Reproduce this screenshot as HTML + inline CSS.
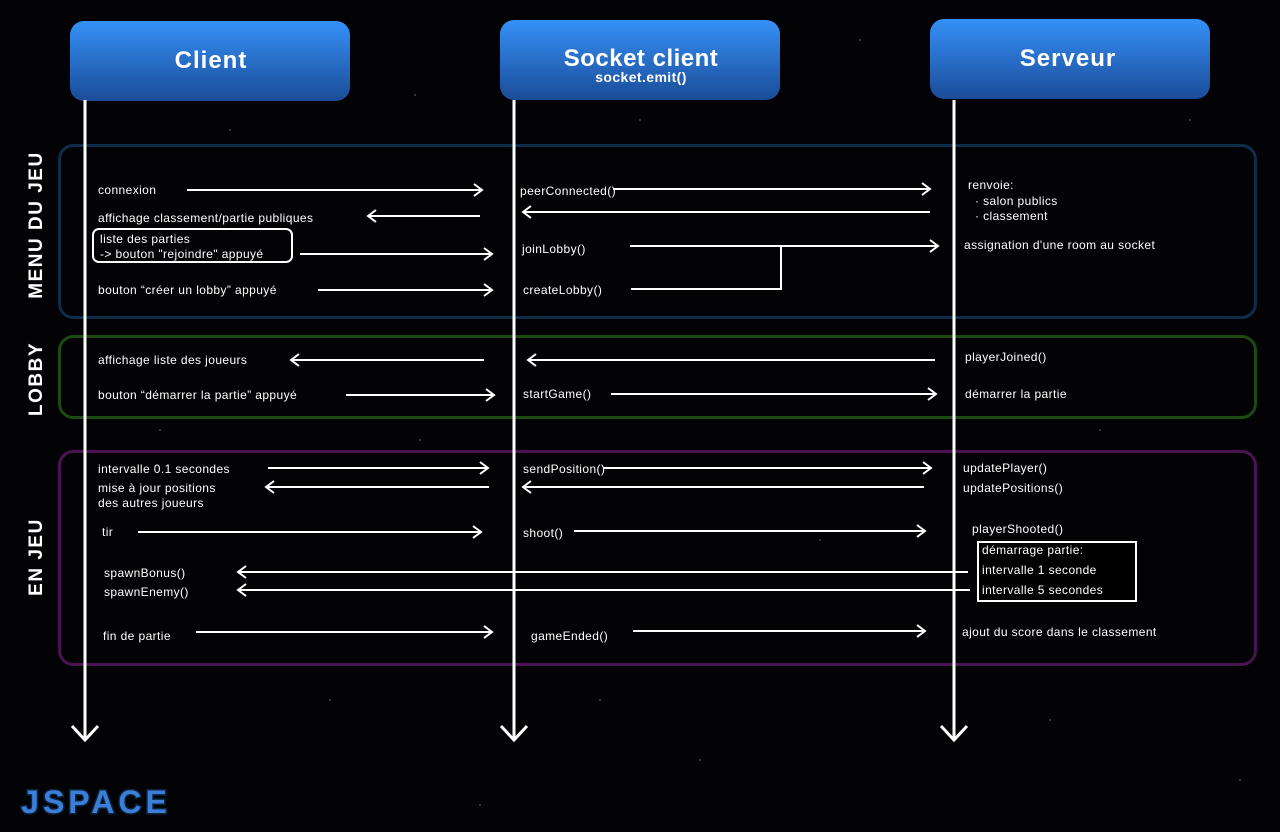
<!DOCTYPE html>
<html><head><meta charset="utf-8"><style>
html,body{margin:0;padding:0;background:#000;}
svg{display:block;}
text{font-family:"Liberation Sans",sans-serif;fill:#fff;font-size:12px;letter-spacing:0.4px;}
</style></head><body>
<svg width="1280" height="832" viewBox="0 0 1280 832" xmlns="http://www.w3.org/2000/svg">
<defs>
<linearGradient id="g" x1="0" y1="0" x2="0" y2="1"><stop offset="0" stop-color="#3591f8"/><stop offset="1" stop-color="#1b4c98"/></linearGradient>
<marker id="a" markerWidth="12" markerHeight="14" refX="10" refY="7" orient="auto" markerUnits="userSpaceOnUse"><path d="M2,1 L10,7 L2,13" fill="none" stroke="#fff" stroke-width="2"/></marker>
</defs>
<rect width="1280" height="832" fill="#030305"/>
<g fill="#6a5a70" opacity="0.7">
<circle cx="230" cy="130" r="1"/><circle cx="415" cy="95" r="1"/><circle cx="640" cy="120" r="1"/><circle cx="860" cy="40" r="1"/><circle cx="1100" cy="430" r="1"/><circle cx="330" cy="700" r="1"/><circle cx="700" cy="760" r="1"/><circle cx="1050" cy="720" r="1"/><circle cx="160" cy="430" r="1"/><circle cx="820" cy="540" r="1"/><circle cx="1240" cy="780" r="1"/><circle cx="480" cy="805" r="1"/><circle cx="1190" cy="120" r="1"/><circle cx="420" cy="440" r="1"/><circle cx="600" cy="700" r="1"/>
</g>
<rect x="59.5" y="145.5" width="1196" height="172" rx="14" fill="none" stroke="#0f2c48" stroke-width="3"/>
<rect x="59.5" y="336.5" width="1196" height="81" rx="14" fill="none" stroke="#1c4a12" stroke-width="3"/>
<rect x="59.5" y="451.5" width="1196" height="213" rx="14" fill="none" stroke="#4a1352" stroke-width="3"/>
<g font-weight="bold">
<text transform="translate(42,225) rotate(-90)" text-anchor="middle" style="font-size:19px;letter-spacing:1.5px">MENU DU JEU</text>
<text transform="translate(42,379) rotate(-90)" text-anchor="middle" style="font-size:19px;letter-spacing:1.5px">LOBBY</text>
<text transform="translate(42,557) rotate(-90)" text-anchor="middle" style="font-size:19px;letter-spacing:1.5px">EN JEU</text>
</g>
<rect x="70" y="21" width="280" height="80" rx="14" fill="url(#g)"/>
<rect x="500" y="20" width="280" height="80" rx="14" fill="url(#g)"/>
<rect x="930" y="19" width="280" height="80" rx="14" fill="url(#g)"/>
<text x="211" y="68" text-anchor="middle" font-weight="bold" style="font-size:24px;letter-spacing:1px">Client</text>
<text x="641" y="66" text-anchor="middle" font-weight="bold" style="font-size:24px;letter-spacing:0.5px">Socket client</text>
<text x="641" y="82" text-anchor="middle" font-weight="bold" style="font-size:14px">socket.emit()</text>
<text x="1068" y="66" text-anchor="middle" font-weight="bold" style="font-size:24px;letter-spacing:1px">Serveur</text>
<g stroke="#fff" stroke-width="3" fill="none">
<line x1="85" y1="100" x2="85" y2="740"/><path d="M72,726 L85,740 L98,726"/>
<line x1="514" y1="100" x2="514" y2="740"/><path d="M501,726 L514,740 L527,726"/>
<line x1="954" y1="100" x2="954" y2="740"/><path d="M941,726 L954,740 L967,726"/>
</g>
<g stroke="#fff" stroke-width="2" fill="none" marker-end="url(#a)">
<line x1="187" y1="190" x2="482" y2="190"/>
<line x1="480" y1="216" x2="368" y2="216"/>
<line x1="300" y1="254" x2="492" y2="254"/>
<line x1="318" y1="290" x2="492" y2="290"/>
<line x1="613" y1="189" x2="930" y2="189"/>
<line x1="930" y1="212" x2="523" y2="212"/>
<line x1="630" y1="246" x2="938" y2="246"/>
<line x1="484" y1="360" x2="291" y2="360"/>
<line x1="346" y1="395" x2="494" y2="395"/>
<line x1="935" y1="360" x2="528" y2="360"/>
<line x1="611" y1="394" x2="936" y2="394"/>
<line x1="268" y1="468" x2="488" y2="468"/>
<line x1="489" y1="487" x2="266" y2="487"/>
<line x1="138" y1="532" x2="481" y2="532"/>
<line x1="968" y1="572" x2="238" y2="572"/>
<line x1="970" y1="590" x2="238" y2="590"/>
<line x1="196" y1="632" x2="492" y2="632"/>
<line x1="603" y1="468" x2="931" y2="468"/>
<line x1="924" y1="487" x2="523" y2="487"/>
<line x1="574" y1="531" x2="925" y2="531"/>
<line x1="633" y1="631" x2="925" y2="631"/>
</g>
<path d="M631,289 L781,289 L781,247" stroke="#fff" stroke-width="2" fill="none"/>
<rect x="93" y="229" width="199" height="33" rx="6" fill="none" stroke="#fff" stroke-width="2"/>
<rect x="978" y="542" width="158" height="59" fill="#000" stroke="#fff" stroke-width="2"/>
<text x="98" y="194">connexion</text>
<text x="98" y="222">affichage classement/partie publiques</text>
<text x="100" y="243">liste des parties</text>
<text x="100" y="258">-&gt; bouton "rejoindre" appuyé</text>
<text x="98" y="294">bouton “créer un lobby” appuyé</text>
<text x="520" y="195">peerConnected()</text>
<text x="522" y="253">joinLobby()</text>
<text x="523" y="294">createLobby()</text>
<text x="968" y="189">renvoie:</text>
<text x="975" y="205">·  salon publics</text>
<text x="975" y="220">·  classement</text>
<text x="964" y="249">assignation d'une room au socket</text>
<text x="98" y="364">affichage liste des joueurs</text>
<text x="98" y="399">bouton “démarrer la partie” appuyé</text>
<text x="523" y="398">startGame()</text>
<text x="965" y="361">playerJoined()</text>
<text x="965" y="398">démarrer la partie</text>
<text x="98" y="473">intervalle 0.1 secondes</text>
<text x="98" y="492">mise à jour positions</text>
<text x="98" y="507">des autres joueurs</text>
<text x="102" y="536">tir</text>
<text x="104" y="577">spawnBonus()</text>
<text x="104" y="596">spawnEnemy()</text>
<text x="103" y="640">fin de partie</text>
<text x="523" y="473">sendPosition()</text>
<text x="523" y="537">shoot()</text>
<text x="531" y="640">gameEnded()</text>
<text x="963" y="472">updatePlayer()</text>
<text x="963" y="492">updatePositions()</text>
<text x="972" y="533">playerShooted()</text>
<text x="982" y="554">démarrage partie:</text>
<text x="982" y="574">intervalle 1 seconde</text>
<text x="982" y="594">intervalle 5 secondes</text>
<text x="962" y="636">ajout du score dans le classement</text>
<text x="96" y="813" text-anchor="middle" font-weight="bold" style="font-size:32px;fill:#3b7fd8;stroke:#0d2440;stroke-width:3;paint-order:stroke;letter-spacing:4px">JSPACE</text>
</svg>
</body></html>
